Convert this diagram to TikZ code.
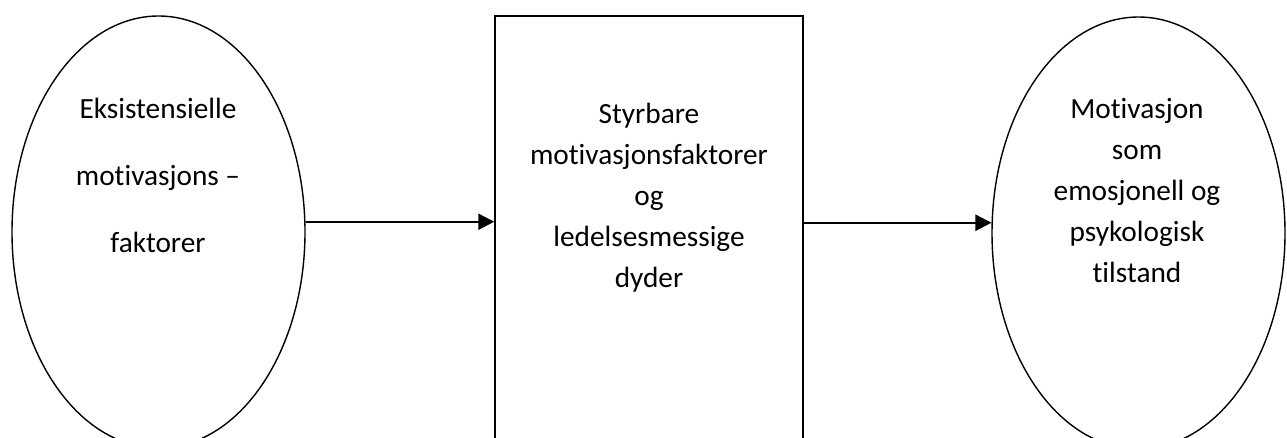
\documentclass[tikz,border=0pt]{standalone}
\usepackage{fontspec}
\setmainfont{Carlito}[Ligatures={NoCommon}]
\usetikzlibrary{shapes.geometric,arrows.meta}
\tikzset{
  oval/.style={draw, ellipse, line width=1.4pt, minimum width=293pt, minimum height=432pt, inner sep=0pt},
  bigbox/.style={draw, rectangle, line width=1.5pt, minimum width=308pt, minimum height=444pt, inner sep=0pt},
  lbl/.style={align=center, anchor=base, inner sep=0pt, font=\fontsize{29.3}{41}\selectfont},
  widelbl/.style={lbl, font=\fontsize{29.3}{67}\selectfont},
  arr/.style={line width=2.2pt, -{Triangle[length=16pt,width=16pt]}}
}
\begin{document}
\begin{tikzpicture}[x=1pt,y=-1pt]
\useasboundingbox[fill=white] (0,0) rectangle (1287,437);
\node[oval] (e1) at (158.5,232) {};
\node[bigbox] (box) at (649,238) {};
\node[oval] (e2) at (1138.5,233) {};
\node[widelbl] (t1) at (158,252) {Eksistensielle\\motivasjons –\\faktorer};
\node[lbl] (t2) at (649,287) {Styrbare\\motivasjonsfaktorer\\og\\ledelsesmessige\\dyder};
\node[lbl] (t3) at (1137,282) {Motivasjon\\som\\emosjonell og\\psykologisk\\tilstand};
\draw[arr] (e1.4) -- (e1.4 -| box.west);
\draw[arr] (e2.176 -| box.east) -- (e2.176);
\end{tikzpicture}
\end{document}
